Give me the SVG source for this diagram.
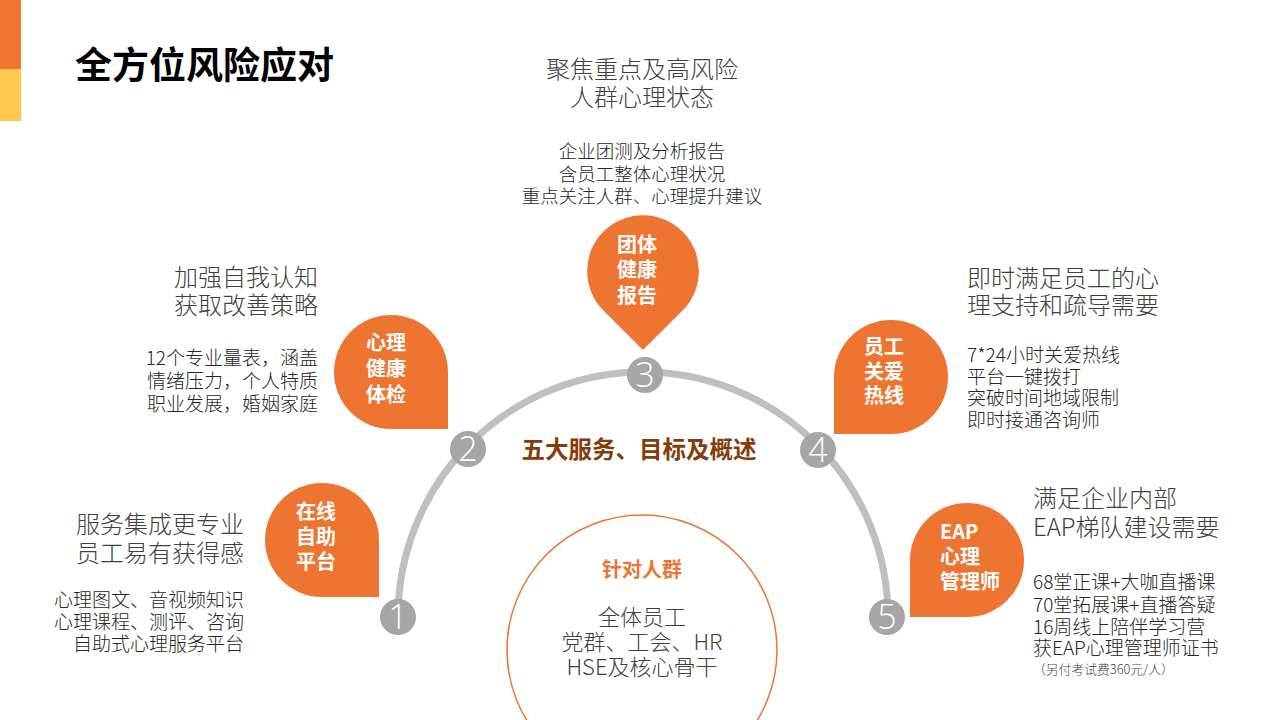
<svg xmlns="http://www.w3.org/2000/svg" xmlns:xlink="http://www.w3.org/1999/xlink" width="1280" height="720" viewBox="0 0 1280 720">
<style>
  text { font-family: "Noto Sans CJK SC", "Noto Sans", sans-serif; }
  .title { font-size: 37px; font-weight: 700; fill: #000; }
  .drop { fill: #ED7431; }
  .dt { font-size: 20px; font-weight: 700; fill: #fff; }
  .h { font-size: 24px; font-weight: 300; fill: #404040; }
  .d { font-size: 19px; font-weight: 300; fill: #262626; }
  .num { fill: #A6A6A6; }
  .nt { font-family: "Open Sans", "Noto Sans", sans-serif; font-size: 34px; font-weight: 300; fill: #fff; text-anchor: middle; }
  .mid { text-anchor: middle; }
  .end { text-anchor: end; }
</style>
<defs>
  <path id="tear" d="M57,57 L0,57 A57,57 0 0 1 -57,0 A57,57 0 0 1 0,-57 A57,57 0 0 1 57,0 Z"/>
</defs>
<rect width="1280" height="720" fill="#fff"/>
<rect x="0" y="0" width="21" height="69" fill="#F07533"/>
<rect x="0" y="69" width="21" height="52" fill="#FFC84E"/>
<text class="title" x="75" y="79">全方位风险应对</text>

<g id="connectors">
  <path d="M398,617 A245,245 0 0 1 888,617" fill="none" stroke="#BFBFBF" stroke-width="7"/>
</g>

<g id="center-title">
  <text x="639" y="458" class="mid" style="font-size:23.5px;font-weight:700;fill:#843C0C">五大服务、目标及概述</text>
</g>

<g id="target-group">
  <circle cx="642" cy="650" r="135" fill="none" stroke="#ED7431" stroke-width="1.5"/>
  <text x="642" y="577" class="mid" style="font-size:20px;font-weight:700;fill:#ED7431">针对人群</text>
  <text x="642" y="625" class="mid" style="font-size:22px;font-weight:300;fill:#404040">全体员工</text>
  <text x="642" y="650" class="mid" style="font-size:22px;font-weight:300;fill:#404040">党群、工会、HR</text>
  <text x="642" y="675" class="mid" style="font-size:22px;font-weight:300;fill:#404040">HSE及核心骨干</text>
</g>

<g id="node1">
  <use xlink:href="#tear" href="#tear" class="drop" transform="translate(322,540)"/>
  <text class="dt mid" x="316" y="519">在线</text>
  <text class="dt mid" x="316" y="544">自助</text>
  <text class="dt mid" x="316" y="569">平台</text>
  <circle class="num" cx="398" cy="617" r="18"/>
  <text class="nt" x="398" y="629">1</text>
  <text class="h end" x="244" y="533">服务集成更专业</text>
  <text class="h end" x="244" y="562">员工易有获得感</text>
  <text class="d end" x="244" y="607">心理图文、音视频知识</text>
  <text class="d end" x="244" y="629">心理课程、测评、咨询</text>
  <text class="d end" x="244" y="651">自助式心理服务平台</text>
</g>

<g id="node2">
  <use xlink:href="#tear" href="#tear" class="drop" transform="translate(391,372)"/>
  <text class="dt mid" x="386" y="350">心理</text>
  <text class="dt mid" x="386" y="376">健康</text>
  <text class="dt mid" x="386" y="402">体检</text>
  <circle class="num" cx="468" cy="449" r="18"/>
  <text class="nt" x="468" y="461">2</text>
  <text class="h end" x="318" y="286">加强自我认知</text>
  <text class="h end" x="318" y="314">获取改善策略</text>
  <text class="d end" x="318" y="365">12个专业量表，涵盖</text>
  <text class="d end" x="318" y="388">情绪压力，个人特质</text>
  <text class="d end" x="318" y="411">职业发展，婚姻家庭</text>
</g>

<g id="node3">
  <use xlink:href="#tear" href="#tear" class="drop" transform="translate(643,271) rotate(45) scale(0.98)"/>
  <text class="dt mid" x="637" y="252">团体</text>
  <text class="dt mid" x="637" y="277">健康</text>
  <text class="dt mid" x="637" y="303">报告</text>
  <circle class="num" cx="645" cy="375" r="18"/>
  <text class="nt" x="645" y="387">3</text>
  <text class="h mid" x="642" y="78">聚焦重点及高风险</text>
  <text class="h mid" x="642" y="106">人群心理状态</text>
  <text class="d mid" x="642" y="158" style="font-size:18.5px">企业团测及分析报告</text>
  <text class="d mid" x="642" y="181" style="font-size:18.5px">含员工整体心理状况</text>
  <text class="d mid" x="642" y="203" style="font-size:18.5px">重点关注人群、心理提升建议</text>
</g>

<g id="node4">
  <use xlink:href="#tear" href="#tear" class="drop" transform="translate(891,377) rotate(90)"/>
  <text class="dt mid" x="884" y="354">员工</text>
  <text class="dt mid" x="884" y="379">关爱</text>
  <text class="dt mid" x="884" y="403">热线</text>
  <circle class="num" cx="818" cy="450" r="18"/>
  <text class="nt" x="818" y="462">4</text>
  <text class="h" x="967" y="287">即时满足员工的心</text>
  <text class="h" x="967" y="314">理支持和疏导需要</text>
  <text class="d" x="967" y="362">7*24小时关爱热线</text>
  <text class="d" x="967" y="384">平台一键拨打</text>
  <text class="d" x="967" y="405">突破时间地域限制</text>
  <text class="d" x="967" y="427">即时接通咨询师</text>
</g>

<g id="node5">
  <use xlink:href="#tear" href="#tear" class="drop" transform="translate(967,560) rotate(90)"/>
  <text class="dt" x="940" y="539">EAP</text>
  <text class="dt" x="940" y="564">心理</text>
  <text class="dt" x="940" y="589">管理师</text>
  <circle class="num" cx="887" cy="617" r="18"/>
  <text class="nt" x="887" y="629">5</text>
  <text class="h" x="1033" y="507">满足企业内部</text>
  <text class="h" x="1033" y="536">EAP梯队建设需要</text>
  <text class="d" x="1033" y="589">68堂正课+大咖直播课</text>
  <text class="d" x="1033" y="612">70堂拓展课+直播答疑</text>
  <text class="d" x="1033" y="634">16周线上陪伴学习营</text>
  <text class="d" x="1033" y="655">获EAP心理管理师证书</text>
  <text x="1033" y="674" style="font-size:12.8px;font-weight:300;fill:#404040">（另付考试费360元/人）</text>
</g>
</svg>
